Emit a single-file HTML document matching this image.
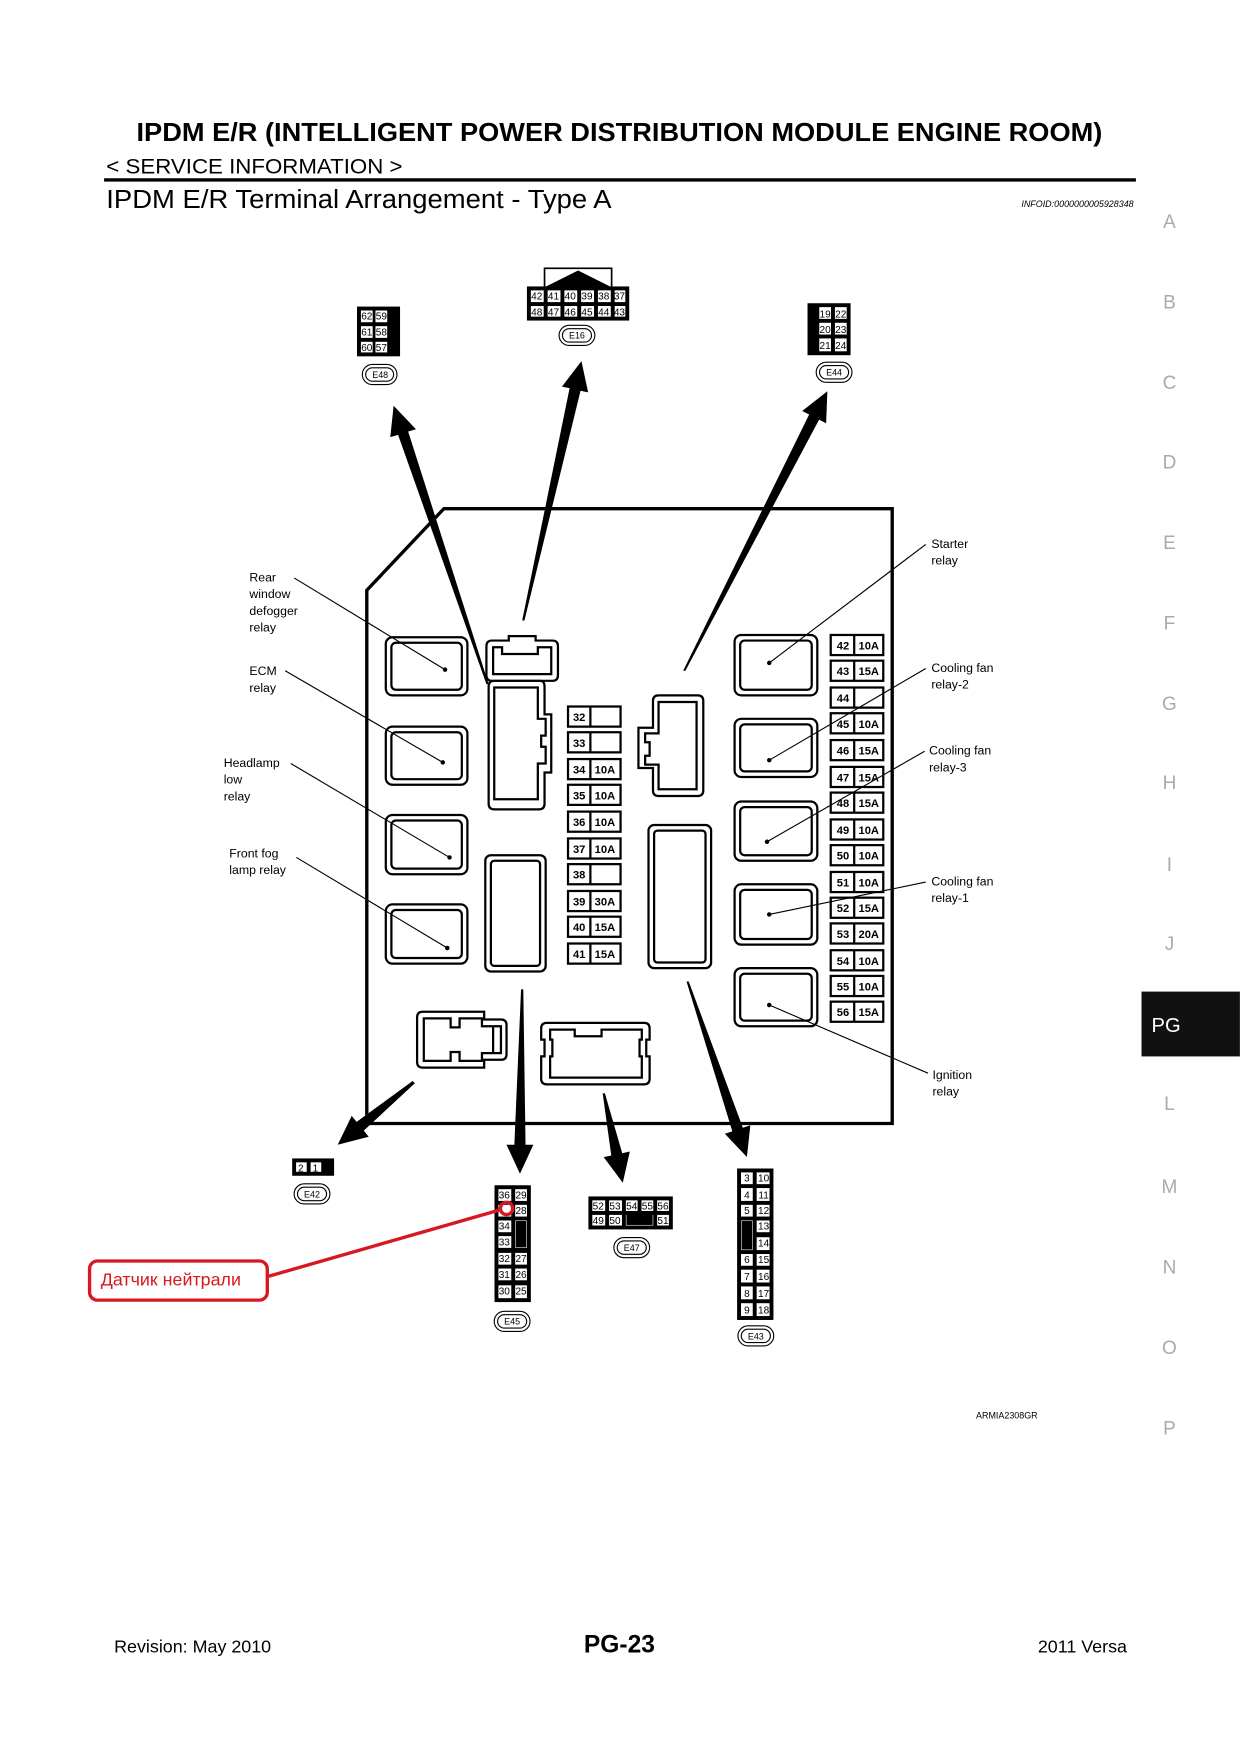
<!DOCTYPE html>
<html><head><meta charset="utf-8"><style>
html,body{margin:0;padding:0;background:#fff}
svg{display:block}
text{font-family:"Liberation Sans",Arial,sans-serif}
</style></head><body>
<svg width="1240" height="1754" viewBox="0 0 1109 1569" xmlns="http://www.w3.org/2000/svg">
<rect width="1109" height="1569" fill="#fff"/>
<!-- header -->
<text x="122" y="126" font-size="23.5" font-weight="bold" textLength="864" lengthAdjust="spacingAndGlyphs">IPDM E/R (INTELLIGENT POWER DISTRIBUTION MODULE ENGINE ROOM)</text>
<text x="95" y="155" font-size="19" textLength="265" lengthAdjust="spacingAndGlyphs">&lt; SERVICE INFORMATION &gt;</text>
<line x1="93" y1="161" x2="1016" y2="161" stroke="#000" stroke-width="3"/>
<text x="95" y="186" font-size="23" textLength="452" lengthAdjust="spacingAndGlyphs">IPDM E/R Terminal Arrangement - Type A</text>
<text x="1014" y="185" font-size="8" font-style="italic" text-anchor="end">INFOID:0000000005928348</text>
<!-- side tabs -->
<g font-size="17" fill="#aaa" text-anchor="middle">
<text x="1046" y="204">A</text><text x="1046" y="276">B</text><text x="1046" y="348">C</text><text x="1046" y="419">D</text><text x="1046" y="491">E</text><text x="1046" y="563">F</text><text x="1046" y="635">G</text><text x="1046" y="706">H</text><text x="1046" y="779">I</text><text x="1046" y="850">J</text><text x="1046" y="993">L</text><text x="1046" y="1067">M</text><text x="1046" y="1139">N</text><text x="1046" y="1211">O</text><text x="1046" y="1283">P</text>
</g>
<rect x="1021" y="887" width="88" height="58" fill="#111"/>
<text x="1043" y="923" font-size="18" fill="#fff" text-anchor="middle">PG</text>

<!-- main box -->
<polygon points="328,528 397,455 798,455 798,1005 328,1005" fill="none" stroke="#000" stroke-width="3"/>

<!-- relays -->
<g fill="none" stroke="#000" stroke-width="2">
<rect x="345" y="570" width="73" height="52" rx="6"/><rect x="350" y="575" width="63" height="42" rx="4"/>
<rect x="345" y="650" width="73" height="52" rx="6"/><rect x="350" y="655" width="63" height="42" rx="4"/>
<rect x="345" y="729" width="73" height="53" rx="6"/><rect x="350" y="734" width="63" height="43" rx="4"/>
<rect x="345" y="809" width="73" height="53" rx="6"/><rect x="350" y="814" width="63" height="43" rx="4"/>
<rect x="657" y="568" width="74" height="54" rx="6"/><rect x="662" y="573" width="64" height="44" rx="4"/>
<rect x="657" y="643" width="74" height="52" rx="6"/><rect x="662" y="648" width="64" height="42" rx="4"/>
<rect x="657" y="717" width="74" height="53" rx="6"/><rect x="662" y="722" width="64" height="43" rx="4"/>
<rect x="657" y="791" width="74" height="54" rx="6"/><rect x="662" y="796" width="64" height="44" rx="4"/>
<rect x="657" y="866" width="74" height="52" rx="6"/><rect x="662" y="871" width="64" height="42" rx="4"/>
<rect x="434" y="765" width="54" height="104" rx="5"/><rect x="439" y="770" width="44" height="94" rx="3"/>
<rect x="580" y="738" width="56" height="128" rx="5"/><rect x="585" y="743" width="46" height="118" rx="3"/>
<path d="M435,578 q0,-5 5,-5 h15 v-4 h24 v4 h15 q5,0 5,5 v26 q0,5 -5,5 h-54 q-5,0 -5,-5z"/>
<path d="M441,579 h8 v6 h32 v-6 h12 v24 h-52z"/>
<path d="M437,614 q0,-5 5,-5 h41 q4,0 4,5 v25 h6 v52 h-6 v28 q0,5 -5,5 h-40 q-5,0 -5,-5z"/>
<path d="M442,615 h39 v28 h7 v15 h-4 v10 h4 v15 h-7 v32 h-39z"/>
<path d="M584,627 q0,-5 5,-5 h35 q5,0 5,5 v80 q0,5 -5,5 h-35 q-5,0 -5,-5 v-20 h-13 v-36 h13z"/>
<path d="M589,628 h34 v78 h-34 v-22 h-12 v-8 h4 v-12 h-4 v-8 h12z"/>
<path d="M373,910 q0,-5 5,-5 h55 v7 h15 q5,0 5,5 v26 q0,5 -5,5 h-15 v7 h-55 q-5,0 -5,-5z"/>
<path d="M379,911 h24 v8 h8 v-8 h20 v7 h17 v24 h-17 v7 h-20 v-8 h-8 v8 h-24z"/>
<line x1="441" y1="919" x2="441" y2="941"/>
<path d="M489,915 h87 q5,0 5,5 v10 h-3 v15 h3 v20 q0,5 -5,5 h-87 q-5,0 -5,-5 v-20 h3 v-15 h-3 v-10 q0,-5 5,-5z"/>
<path d="M492,921 h22 v6 h24 v-6 h36 v9 h-2 v15 h2 v19 h-82 v-19 h2 v-15 h-2z"/>
</g>

<!-- fuses left -->
<g stroke="#000" stroke-width="2" fill="#fff" font-size="10" font-weight="bold">
<g><rect x="508" y="632" width="47" height="18"/><line x1="528" y1="632" x2="528" y2="650"/><text x="518" y="645" text-anchor="middle" stroke="none" fill="#000">32</text></g>
<g><rect x="508" y="655" width="47" height="18"/><line x1="528" y1="655" x2="528" y2="673"/><text x="518" y="668" text-anchor="middle" stroke="none" fill="#000">33</text></g>
<g><rect x="508" y="679" width="47" height="18"/><line x1="528" y1="679" x2="528" y2="697"/><text x="518" y="692" text-anchor="middle" stroke="none" fill="#000">34</text><text x="541" y="692" text-anchor="middle" stroke="none" fill="#000">10A</text></g>
<g><rect x="508" y="702" width="47" height="18"/><line x1="528" y1="702" x2="528" y2="720"/><text x="518" y="715" text-anchor="middle" stroke="none" fill="#000">35</text><text x="541" y="715" text-anchor="middle" stroke="none" fill="#000">10A</text></g>
<g><rect x="508" y="726" width="47" height="18"/><line x1="528" y1="726" x2="528" y2="744"/><text x="518" y="739" text-anchor="middle" stroke="none" fill="#000">36</text><text x="541" y="739" text-anchor="middle" stroke="none" fill="#000">10A</text></g>
<g><rect x="508" y="750" width="47" height="18"/><line x1="528" y1="750" x2="528" y2="768"/><text x="518" y="763" text-anchor="middle" stroke="none" fill="#000">37</text><text x="541" y="763" text-anchor="middle" stroke="none" fill="#000">10A</text></g>
<g><rect x="508" y="773" width="47" height="18"/><line x1="528" y1="773" x2="528" y2="791"/><text x="518" y="786" text-anchor="middle" stroke="none" fill="#000">38</text></g>
<g><rect x="508" y="797" width="47" height="18"/><line x1="528" y1="797" x2="528" y2="815"/><text x="518" y="810" text-anchor="middle" stroke="none" fill="#000">39</text><text x="541" y="810" text-anchor="middle" stroke="none" fill="#000">30A</text></g>
<g><rect x="508" y="820" width="47" height="18"/><line x1="528" y1="820" x2="528" y2="838"/><text x="518" y="833" text-anchor="middle" stroke="none" fill="#000">40</text><text x="541" y="833" text-anchor="middle" stroke="none" fill="#000">15A</text></g>
<g><rect x="508" y="844" width="47" height="18"/><line x1="528" y1="844" x2="528" y2="862"/><text x="518" y="857" text-anchor="middle" stroke="none" fill="#000">41</text><text x="541" y="857" text-anchor="middle" stroke="none" fill="#000">15A</text></g>
</g>
<!-- fuses right -->
<g stroke="#000" stroke-width="2" fill="#fff" font-size="10" font-weight="bold">
<g><rect x="743" y="568" width="47" height="18"/><line x1="764" y1="568" x2="764" y2="586"/><text x="754" y="581" text-anchor="middle" stroke="none" fill="#000">42</text><text x="777" y="581" text-anchor="middle" stroke="none" fill="#000">10A</text></g>
<g><rect x="743" y="591" width="47" height="18"/><line x1="764" y1="591" x2="764" y2="609"/><text x="754" y="604" text-anchor="middle" stroke="none" fill="#000">43</text><text x="777" y="604" text-anchor="middle" stroke="none" fill="#000">15A</text></g>
<g><rect x="743" y="615" width="47" height="18"/><line x1="764" y1="615" x2="764" y2="633"/><text x="754" y="628" text-anchor="middle" stroke="none" fill="#000">44</text></g>
<g><rect x="743" y="638" width="47" height="18"/><line x1="764" y1="638" x2="764" y2="656"/><text x="754" y="651" text-anchor="middle" stroke="none" fill="#000">45</text><text x="777" y="651" text-anchor="middle" stroke="none" fill="#000">10A</text></g>
<g><rect x="743" y="662" width="47" height="18"/><line x1="764" y1="662" x2="764" y2="680"/><text x="754" y="675" text-anchor="middle" stroke="none" fill="#000">46</text><text x="777" y="675" text-anchor="middle" stroke="none" fill="#000">15A</text></g>
<g><rect x="743" y="686" width="47" height="18"/><line x1="764" y1="686" x2="764" y2="704"/><text x="754" y="699" text-anchor="middle" stroke="none" fill="#000">47</text><text x="777" y="699" text-anchor="middle" stroke="none" fill="#000">15A</text></g>
<g><rect x="743" y="709" width="47" height="18"/><line x1="764" y1="709" x2="764" y2="727"/><text x="754" y="722" text-anchor="middle" stroke="none" fill="#000">48</text><text x="777" y="722" text-anchor="middle" stroke="none" fill="#000">15A</text></g>
<g><rect x="743" y="733" width="47" height="18"/><line x1="764" y1="733" x2="764" y2="751"/><text x="754" y="746" text-anchor="middle" stroke="none" fill="#000">49</text><text x="777" y="746" text-anchor="middle" stroke="none" fill="#000">10A</text></g>
<g><rect x="743" y="756" width="47" height="18"/><line x1="764" y1="756" x2="764" y2="774"/><text x="754" y="769" text-anchor="middle" stroke="none" fill="#000">50</text><text x="777" y="769" text-anchor="middle" stroke="none" fill="#000">10A</text></g>
<g><rect x="743" y="780" width="47" height="18"/><line x1="764" y1="780" x2="764" y2="798"/><text x="754" y="793" text-anchor="middle" stroke="none" fill="#000">51</text><text x="777" y="793" text-anchor="middle" stroke="none" fill="#000">10A</text></g>
<g><rect x="743" y="803" width="47" height="18"/><line x1="764" y1="803" x2="764" y2="821"/><text x="754" y="816" text-anchor="middle" stroke="none" fill="#000">52</text><text x="777" y="816" text-anchor="middle" stroke="none" fill="#000">15A</text></g>
<g><rect x="743" y="826" width="47" height="18"/><line x1="764" y1="826" x2="764" y2="844"/><text x="754" y="839" text-anchor="middle" stroke="none" fill="#000">53</text><text x="777" y="839" text-anchor="middle" stroke="none" fill="#000">20A</text></g>
<g><rect x="743" y="850" width="47" height="18"/><line x1="764" y1="850" x2="764" y2="868"/><text x="754" y="863" text-anchor="middle" stroke="none" fill="#000">54</text><text x="777" y="863" text-anchor="middle" stroke="none" fill="#000">10A</text></g>
<g><rect x="743" y="873" width="47" height="18"/><line x1="764" y1="873" x2="764" y2="891"/><text x="754" y="886" text-anchor="middle" stroke="none" fill="#000">55</text><text x="777" y="886" text-anchor="middle" stroke="none" fill="#000">10A</text></g>
<g><rect x="743" y="896" width="47" height="18"/><line x1="764" y1="896" x2="764" y2="914"/><text x="754" y="909" text-anchor="middle" stroke="none" fill="#000">56</text><text x="777" y="909" text-anchor="middle" stroke="none" fill="#000">15A</text></g>
</g>

<!-- leaders -->
<g stroke="#000" stroke-width="1" fill="#000">
<line x1="263" y1="517" x2="398" y2="599"/><circle cx="398" cy="599" r="1.5"/>
<line x1="255" y1="600" x2="396" y2="682"/><circle cx="396" cy="682" r="1.5"/>
<line x1="260" y1="683" x2="402" y2="767"/><circle cx="402" cy="767" r="1.5"/>
<line x1="265" y1="767" x2="400" y2="848"/><circle cx="400" cy="848" r="1.5"/>
<line x1="828" y1="487" x2="688" y2="593"/><circle cx="688" cy="593" r="1.5"/>
<line x1="828" y1="598" x2="688" y2="680"/><circle cx="688" cy="680" r="1.5"/>
<line x1="827" y1="672" x2="686" y2="753"/><circle cx="686" cy="753" r="1.5"/>
<line x1="828" y1="789" x2="688" y2="818"/><circle cx="688" cy="818" r="1.5"/>
<line x1="830" y1="960" x2="688" y2="899"/><circle cx="688" cy="899" r="1.5"/>
</g>
<g font-size="11">
<text x="223" y="520">Rear</text><text x="223" y="535">window</text><text x="223" y="550">defogger</text><text x="223" y="565">relay</text>
<text x="223" y="604">ECM</text><text x="223" y="619">relay</text>
<text x="200" y="686">Headlamp</text><text x="200" y="701">low</text><text x="200" y="716">relay</text>
<text x="205" y="767">Front fog</text><text x="205" y="782">lamp relay</text>
<text x="833" y="490">Starter</text><text x="833" y="505">relay</text>
<text x="833" y="601">Cooling fan</text><text x="833" y="616">relay-2</text>
<text x="831" y="675">Cooling fan</text><text x="831" y="690">relay-3</text>
<text x="833" y="792">Cooling fan</text><text x="833" y="807">relay-1</text>
<text x="834" y="965">Ignition</text><text x="834" y="980">relay</text>
</g>

<!-- wedge arrows -->
<g fill="#000">
<polygon points="437,612 365,386 372,384 352,363 349,391 356,389 435,612"/>
<polygon points="469,555 519.2,349.5 526,351 520,323 502.6,345.8 509.4,347.3 467,555"/>
<polygon points="613,600 732.6,375.4 738.9,378.6 740,350 717.5,367.6 723.7,370.8 611,600"/>
<polygon points="371,969 325.3,1011.4 329.7,1016.8 302,1024 314.5,998.2 318.9,1003.6 369,967"/>
<polygon points="468,885 470,1024 477,1024 465,1050 453,1024 460,1024 466,885"/>
<polygon points="539,978 546.7,1033.6 539.9,1035.1 557,1058 563.3,1030.1 556.5,1031.6 541,978"/>
<polygon points="614,878 655,1012 648.3,1014.2 668,1035 671.1,1006.6 664.4,1008.8 616,878"/>
</g>

<!-- connectors -->
<g stroke="#000" stroke-width="1.5" fill="#fff" font-size="9" text-anchor="middle">
<rect x="320" y="275" width="37" height="43" fill="#000"/>
<rect x="322" y="277" width="12" height="12"/><rect x="335" y="277" width="12" height="12"/>
<rect x="322" y="291" width="12" height="12"/><rect x="335" y="291" width="12" height="12"/>
<rect x="322" y="305" width="12" height="11"/><rect x="335" y="305" width="12" height="11"/>
<g stroke="none" fill="#000"><text x="328" y="286">62</text><text x="341" y="286">59</text><text x="328" y="300">61</text><text x="341" y="300">58</text><text x="328" y="314">60</text><text x="341" y="314">57</text></g>
<rect x="723" y="272" width="37" height="45" fill="#000"/>
<rect x="732" y="274" width="12" height="12"/><rect x="746" y="274" width="12" height="12"/>
<rect x="732" y="288" width="12" height="12"/><rect x="746" y="288" width="12" height="12"/>
<rect x="732" y="302" width="12" height="13"/><rect x="746" y="302" width="12" height="13"/>
<g stroke="none" fill="#000"><text x="738" y="284">19</text><text x="752" y="284">22</text><text x="738" y="298">20</text><text x="752" y="298">23</text><text x="738" y="312">21</text><text x="752" y="312">24</text></g>
<rect x="487" y="240" width="60" height="18" fill="#fff"/>
<polygon points="487,257 517,242 547,257" fill="#000" stroke="none"/>
<rect x="472" y="257" width="90" height="29" fill="#000"/>
<g>
<rect x="474" y="259" width="13" height="12"/><rect x="489" y="259" width="13" height="12"/><rect x="504" y="259" width="13" height="12"/><rect x="519" y="259" width="13" height="12"/><rect x="534" y="259" width="13" height="12"/><rect x="549" y="259" width="11" height="12"/>
<rect x="474" y="273" width="13" height="11"/><rect x="489" y="273" width="13" height="11"/><rect x="504" y="273" width="13" height="11"/><rect x="519" y="273" width="13" height="11"/><rect x="534" y="273" width="13" height="11"/><rect x="549" y="273" width="11" height="11"/>
</g>
<g stroke="none" fill="#000"><text x="480" y="268">42</text><text x="495" y="268">41</text><text x="510" y="268">40</text><text x="525" y="268">39</text><text x="540" y="268">38</text><text x="554" y="268">37</text>
<text x="480" y="282">48</text><text x="495" y="282">47</text><text x="510" y="282">46</text><text x="525" y="282">45</text><text x="540" y="282">44</text><text x="554" y="282">43</text></g>
<rect x="262" y="1037" width="36" height="14" fill="#000"/>
<rect x="264" y="1039" width="11" height="10"/><rect x="277" y="1039" width="11" height="10"/>
<g stroke="none" fill="#000"><text x="269" y="1048">2</text><text x="282" y="1048">1</text></g>
<rect x="443" y="1061" width="31" height="103" fill="#000"/>
<g>
<rect x="445" y="1063" width="13" height="12"/><rect x="460" y="1063" width="12" height="12"/>
<rect x="445" y="1077" width="13" height="12"/><rect x="460" y="1077" width="12" height="12"/>
<rect x="445" y="1091" width="13" height="12"/>
<rect x="445" y="1105" width="13" height="12"/>
<rect x="445" y="1120" width="13" height="12"/><rect x="460" y="1120" width="12" height="12"/>
<rect x="445" y="1134" width="13" height="12"/><rect x="460" y="1134" width="12" height="12"/>
<rect x="445" y="1149" width="13" height="13"/><rect x="460" y="1149" width="12" height="13"/>
<rect x="460" y="1091" width="12" height="26"/>
</g>
<rect x="462" y="1093" width="8" height="22" fill="#000"/>
<g stroke="none" fill="#000"><text x="451" y="1072">36</text><text x="466" y="1072">29</text><text x="466" y="1086">28</text><text x="451" y="1100">34</text><text x="451" y="1114">33</text><text x="451" y="1129">32</text><text x="466" y="1129">27</text><text x="451" y="1143">31</text><text x="466" y="1143">26</text><text x="451" y="1158">30</text><text x="466" y="1158">25</text></g>
<rect x="527" y="1071" width="74" height="28" fill="#000"/>
<rect x="529" y="1073" width="13" height="11"/><rect x="544" y="1073" width="13" height="11"/><rect x="559" y="1073" width="12" height="11"/><rect x="573" y="1073" width="12" height="11"/><rect x="587" y="1073" width="12" height="11"/>
<rect x="529" y="1086" width="13" height="11"/><rect x="544" y="1086" width="13" height="11"/><rect x="559" y="1086" width="26" height="11"/><rect x="587" y="1086" width="12" height="11"/>
<rect x="561" y="1087" width="22" height="8" fill="#000"/>
<g stroke="none" fill="#000"><text x="535" y="1082">52</text><text x="550" y="1082">53</text><text x="565" y="1082">54</text><text x="579" y="1082">55</text><text x="593" y="1082">56</text><text x="535" y="1095">49</text><text x="550" y="1095">50</text><text x="593" y="1095">51</text></g>
<rect x="660" y="1046" width="31" height="134" fill="#000"/>
<g>
<rect x="662" y="1048" width="12" height="12"/><rect x="676" y="1048" width="13" height="12"/>
<rect x="662" y="1062" width="12" height="13"/><rect x="676" y="1062" width="13" height="13"/>
<rect x="662" y="1077" width="12" height="12"/><rect x="676" y="1077" width="13" height="12"/>
<rect x="662" y="1091" width="12" height="28"/><rect x="676" y="1091" width="13" height="12"/>
<rect x="676" y="1106" width="13" height="13"/>
<rect x="662" y="1121" width="12" height="12"/><rect x="676" y="1121" width="13" height="12"/>
<rect x="662" y="1135" width="12" height="13"/><rect x="676" y="1135" width="13" height="13"/>
<rect x="662" y="1150" width="12" height="13"/><rect x="676" y="1150" width="13" height="13"/>
<rect x="662" y="1165" width="12" height="13"/><rect x="676" y="1165" width="13" height="13"/>
</g>
<rect x="664" y="1093" width="8" height="24" fill="#000"/>
<g stroke="none" fill="#000"><text x="668" y="1057">3</text><text x="683" y="1057">10</text><text x="668" y="1072">4</text><text x="683" y="1072">11</text><text x="668" y="1086">5</text><text x="683" y="1086">12</text><text x="683" y="1100">13</text><text x="683" y="1115">14</text><text x="668" y="1130">6</text><text x="683" y="1130">15</text><text x="668" y="1145">7</text><text x="683" y="1145">16</text><text x="668" y="1160">8</text><text x="683" y="1160">17</text><text x="668" y="1175">9</text><text x="683" y="1175">18</text></g>
</g>
<!-- ovals -->
<g fill="none" stroke="#000" stroke-width="1">
<rect x="324" y="326" width="31" height="18" rx="9"/><rect x="327" y="329" width="25" height="12" rx="6"/>
<rect x="500" y="291" width="32" height="18" rx="9"/><rect x="503" y="294" width="26" height="12" rx="6"/>
<rect x="730" y="324" width="32" height="18" rx="9"/><rect x="733" y="327" width="26" height="12" rx="6"/>
<rect x="263" y="1059" width="32" height="18" rx="9"/><rect x="266" y="1062" width="26" height="12" rx="6"/>
<rect x="442" y="1173" width="32" height="18" rx="9"/><rect x="445" y="1176" width="26" height="12" rx="6"/>
<rect x="549" y="1107" width="32" height="18" rx="9"/><rect x="552" y="1110" width="26" height="12" rx="6"/>
<rect x="660" y="1186" width="32" height="18" rx="9"/><rect x="663" y="1189" width="26" height="12" rx="6"/>
</g>
<g font-size="8" text-anchor="middle">
<text x="340" y="338">E48</text><text x="516" y="303">E16</text><text x="746" y="336">E44</text><text x="279" y="1071">E42</text><text x="458" y="1185">E45</text><text x="565" y="1119">E47</text><text x="676" y="1198">E43</text>
</g>
<text x="873" y="1269" font-size="8">ARMIA2308GR</text>

<!-- red annotation -->
<g stroke="#d7191f" fill="none" stroke-width="3">
<rect x="80" y="1128" width="159" height="35" rx="7"/>
<line x1="239" y1="1142" x2="448" y2="1082"/>
<circle cx="453" cy="1081" r="5.5"/>
</g>
<text x="90" y="1150" font-size="16" fill="#d7191f">Датчик нейтрали</text>

<!-- footer -->
<text x="102" y="1478" font-size="16">Revision: May 2010</text>
<text x="554" y="1478" font-size="22" font-weight="bold" text-anchor="middle">PG-23</text>
<text x="1008" y="1478" font-size="16" text-anchor="end">2011 Versa</text>
</svg>
</body></html>
